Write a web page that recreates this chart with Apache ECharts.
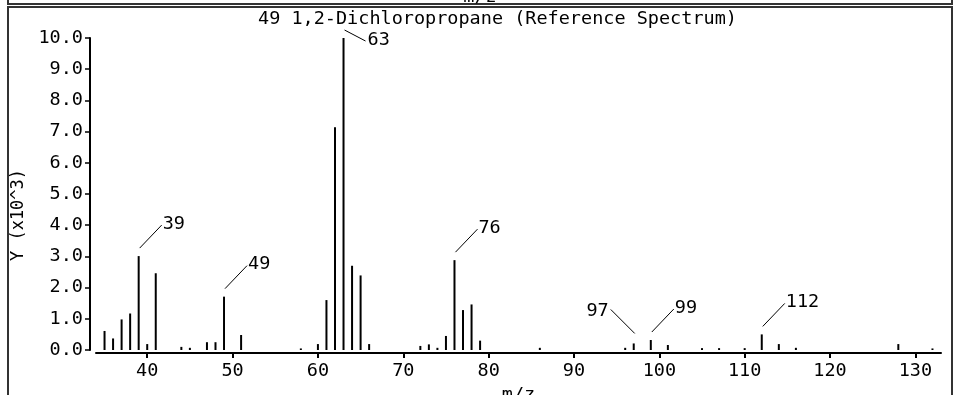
<!DOCTYPE html>
<html>
<head>
<meta charset="utf-8">
<script src="https://cdn.jsdelivr.net/npm/echarts@6/dist/echarts.min.js"></script>
<style>
  html, body { margin: 0; padding: 0; background: #fff; }
  #chart { width: 955px; height: 395px; }
</style>
</head>
<body>
<div id="chart"></div>
<script>
// ---- data (intensity in units of 10^3) ----
const titleText = '49 1,2-Dichloropropane (Reference Spectrum)';
const mz = [35, 36, 37, 38, 39, 40, 41, 44, 45, 47, 48, 49, 51, 58, 60, 61, 62, 63, 64, 65, 66,
            72, 73, 74, 75, 76, 77, 78, 79, 86, 96, 97, 99, 101, 105, 107, 110, 112, 114, 116, 128, 132];
const intensity = [0.61, 0.37, 0.98, 1.17, 3.01, 0.19, 2.46, 0.10, 0.07, 0.25, 0.25, 1.71, 0.48, 0.05, 0.19, 1.60, 7.14, 10.0, 2.70, 2.39, 0.19,
                   0.13, 0.18, 0.07, 0.45, 2.88, 1.28, 1.46, 0.30, 0.07, 0.07, 0.21, 0.32, 0.16, 0.06, 0.06, 0.06, 0.50, 0.19, 0.07, 0.19, 0.05];
const labeledPeaks = [39, 49, 63, 76, 97, 99, 112];
const xTicks = [40, 50, 60, 70, 80, 90, 100, 110, 120, 130];
const xName = 'm/z';
const yName = 'Y (x10^3)';

// ---- styles ----
const FONT = 'DejaVu Sans Mono';
const labelPlacement = { 63: 'dr', 97: 'ul' }; // default 'ur'

const barData = mz.map((m, i) => [m, intensity[i]]);
const labelData = labeledPeaks.map(m => [m, intensity[mz.indexOf(m)]]);

const chart = echarts.init(document.getElementById('chart'), null, { renderer: 'canvas' });

chart.setOption({
  backgroundColor: '#fff',
  animation: false,
  title: {
    text: titleText,
    left: 253,
    top: 5,
    textStyle: { fontFamily: FONT, fontSize: 18.5, fontWeight: 'normal', color: '#000' }
  },
  grid: { left: 96, right: 14, top: 38, bottom: 45, containLabel: false, outerBoundsMode: 'none' },
  xAxis: {
    type: 'value',
    min: 34,
    max: 133,
    offset: 3,
    name: xName,
    nameLocation: 'middle',
    nameGap: 28,
    nameTextStyle: { fontFamily: FONT, fontSize: 18.5, color: '#000' },
    axisLine: { show: true, onZero: false, lineStyle: { color: '#000', width: 2 } },
    axisTick: { show: true, length: 5, customValues: xTicks, lineStyle: { color: '#000', width: 2 } },
    axisLabel: { customValues: xTicks, margin: 9, fontFamily: FONT, fontSize: 18.5, color: '#000' },
    splitLine: { show: false }
  },
  yAxis: {
    type: 'value',
    min: 0,
    max: 10,
    interval: 1,
    offset: 6,
    name: yName,
    nameLocation: 'middle',
    nameGap: 62,
    nameRotate: 90,
    nameTextStyle: { fontFamily: FONT, fontSize: 17, color: '#000', padding: [0, 42, 0, 0] },
    axisLine: { show: true, lineStyle: { color: '#000', width: 2 } },
    axisTick: { show: true, length: 5, lineStyle: { color: '#000', width: 1.5 } },
    axisLabel: { margin: 7, fontFamily: FONT, fontSize: 18.5, color: '#000',
                 formatter: v => v.toFixed(1) },
    splitLine: { show: false }
  },
  series: [
    {
      type: 'bar',
      data: barData,
      barWidth: 2,
      itemStyle: { color: '#000' },
      silent: true
    },
    {
      type: 'custom',
      data: labelData,
      clip: false,
      silent: true,
      renderItem: function (params, api) {
        const m = api.value(0);
        const p = api.coord([m, api.value(1)]);
        const kind = labelPlacement[m] || 'ur';
        let l0, l1, tp, align;
        if (kind === 'ur') {
          l0 = [p[0] + 1, p[1] - 8]; l1 = [p[0] + 23, p[1] - 31]; tp = [p[0] + 24, p[1] - 32]; align = 'left';
        } else if (kind === 'ul') {
          l0 = [p[0] + 1, p[1] - 10]; l1 = [p[0] - 23, p[1] - 34]; tp = [p[0] - 25, p[1] - 32]; align = 'right';
        } else {
          l0 = [p[0] + 1, p[1] - 8]; l1 = [p[0] + 22, p[1] + 3]; tp = [p[0] + 24, p[1] + 2]; align = 'left';
        }
        return {
          type: 'group',
          children: [
            { type: 'line', shape: { x1: l0[0], y1: l0[1], x2: l1[0], y2: l1[1] },
              style: { stroke: '#000', lineWidth: 1 } },
            { type: 'text', x: tp[0], y: tp[1],
              style: { text: String(m), fontFamily: FONT, fontSize: 18.5, fill: '#000',
                       align: align, verticalAlign: 'middle' } }
          ]
        };
      }
    }
  ],
  graphic: [
    { type: 'rect', shape: { x: 8, y: -20, width: 944, height: 24 },
      style: { fill: 'none', stroke: '#333', lineWidth: 2 }, silent: true },
    { type: 'text', x: 480, y: -12, style: { text: 'm/z', fontFamily: FONT, fontSize: 18.5, fill: '#000', align: 'center' }, silent: true },
    { type: 'rect', shape: { x: 8, y: 7, width: 944, height: 400 },
      style: { fill: 'none', stroke: '#333', lineWidth: 2 }, silent: true }
  ]
});
</script>
</body>
</html>
